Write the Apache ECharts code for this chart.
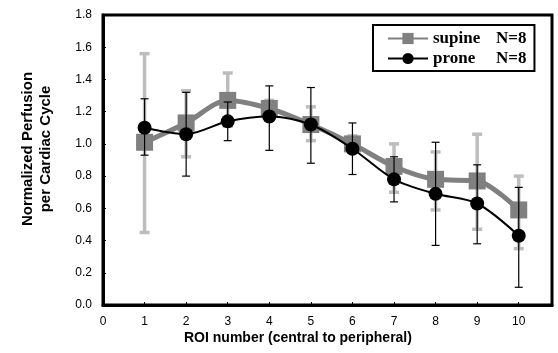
<!DOCTYPE html>
<html>
<head>
<meta charset="utf-8">
<script src="https://cdn.jsdelivr.net/npm/echarts@6/dist/echarts.min.js"></script>
<style>
  html, body { margin: 0; padding: 0; background: #fff; }
  #chart { width: 558px; height: 353px; }
</style>
</head>
<body>
<div id="chart"></div>
<script>
const roi = [1, 2, 3, 4, 5, 6, 7, 8, 9, 10]
const supine = [1.01, 1.13, 1.27, 1.22, 1.12, 1.00, 0.86, 0.78, 0.77, 0.59]
const supineHi = [1.56, 1.33, 1.44, 1.27, 1.23, 1.05, 1.00, 0.95, 1.06, 0.80]
const supineLo = [0.45, 0.92, 1.11, 1.17, 1.02, 0.95, 0.70, 0.59, 0.47, 0.35]
const prone = [1.10, 1.06, 1.14, 1.17, 1.12, 0.97, 0.78, 0.69, 0.63, 0.43]
const proneHi = [1.28, 1.32, 1.26, 1.36, 1.35, 1.13, 0.92, 1.01, 0.87, 0.73]
const proneLo = [0.93, 0.80, 1.02, 0.96, 0.88, 0.81, 0.64, 0.37, 0.38, 0.11]

const chart = echarts.init(document.getElementById('chart'))

// error bar drawer: vertical line with caps
function errBar(color, width, cap) {
  return function (params, api) {
    const x = api.value(0)
    const hi = api.coord([x, api.value(1)])
    const lo = api.coord([x, api.value(2)])
    const style = { stroke: color, lineWidth: width }
    return {
      type: 'group',
      children: [
        { type: 'line', shape: { x1: hi[0], y1: hi[1], x2: lo[0], y2: lo[1] }, style },
        { type: 'line', shape: { x1: hi[0] - cap, y1: hi[1], x2: hi[0] + cap, y2: hi[1] }, style },
        { type: 'line', shape: { x1: lo[0] - cap, y1: lo[1], x2: lo[0] + cap, y2: lo[1] }, style }
      ]
    }
  }
}

const serif = { fontFamily: 'Liberation Serif', fontWeight: 'bold', fontSize: 17, color: '#000' }

const option = {
  animation: false,
  grid: {
    left: 103, right: 6, top: 15, bottom: 48,
    show: true, borderColor: '#000', borderWidth: 3
  },
  legend: {
    left: 373, top: 25,
    orient: 'vertical',
    itemWidth: 40, itemHeight: 14, itemGap: 3,
    padding: [5, 8, 4, 14],
    borderColor: '#000', borderWidth: 2,
    backgroundColor: '#fff',
    data: ['supine', 'prone'],
    formatter: name => '{a|' + name + '}{b|N=8}',
    textStyle: {
      rich: {
        a: Object.assign({ width: 63 }, serif),
        b: Object.assign({ width: 31 }, serif)
      }
    }
  },
  xAxis: {
    type: 'value', min: 0, max: 10.8, interval: 1,
    axisLine: { lineStyle: { color: '#000', width: 3 } },
    axisTick: { inside: true, length: 3, lineStyle: { color: '#000' } },
    axisLabel: { color: '#000', fontFamily: 'Liberation Sans', fontSize: 12, margin: 11, showMaxLabel: false },
    splitLine: { show: false }
  },
  yAxis: {
    type: 'value', min: 0, max: 1.8, interval: 0.2,
    axisLine: { lineStyle: { color: '#000', width: 3 } },
    axisTick: { inside: true, length: 3, lineStyle: { color: '#000' } },
    axisLabel: { color: '#000', fontFamily: 'Liberation Sans', fontSize: 12, margin: 11, formatter: v => v.toFixed(1) },
    splitLine: { show: false }
  },
  graphic: [
    {
      type: 'text', left: 184, top: 331,
      style: { text: 'ROI number (central to peripheral)', fill: '#000', font: 'bold 14px "Liberation Sans"' }
    },
    {
      type: 'text', x: 37, y: 149, rotation: Math.PI / 2,
      style: {
        text: 'Normalized Perfusion\nper Cardiac Cycle', fill: '#000',
        font: 'bold 15px "Liberation Sans"', lineHeight: 18,
        align: 'center', verticalAlign: 'middle'
      }
    }
  ],
  series: [
    {
      type: 'custom', name: 'supineErr', z: 1,
      renderItem: errBar('#bdbdbd', 3.5, 5),
      data: roi.map((r, i) => [r, supineHi[i], supineLo[i]])
    },
    {
      type: 'line', name: 'supine', z: 2, smooth: 0.3,
      data: roi.map((r, i) => [r, supine[i]]),
      symbol: 'rect', symbolSize: 17,
      lineStyle: { color: '#808080', width: 5 },
      itemStyle: { color: '#808080' }
    },
    {
      type: 'custom', name: 'proneErr', z: 3,
      renderItem: errBar('#000', 1.2, 4),
      data: roi.map((r, i) => [r, proneHi[i], proneLo[i]])
    },
    {
      type: 'line', name: 'prone', z: 4, smooth: 0.3,
      data: roi.map((r, i) => [r, prone[i]]),
      symbol: 'circle', symbolSize: 14,
      lineStyle: { color: '#000', width: 2 },
      itemStyle: { color: '#000' }
    }
  ]
}

chart.setOption(option)
</script>
</body>
</html>
